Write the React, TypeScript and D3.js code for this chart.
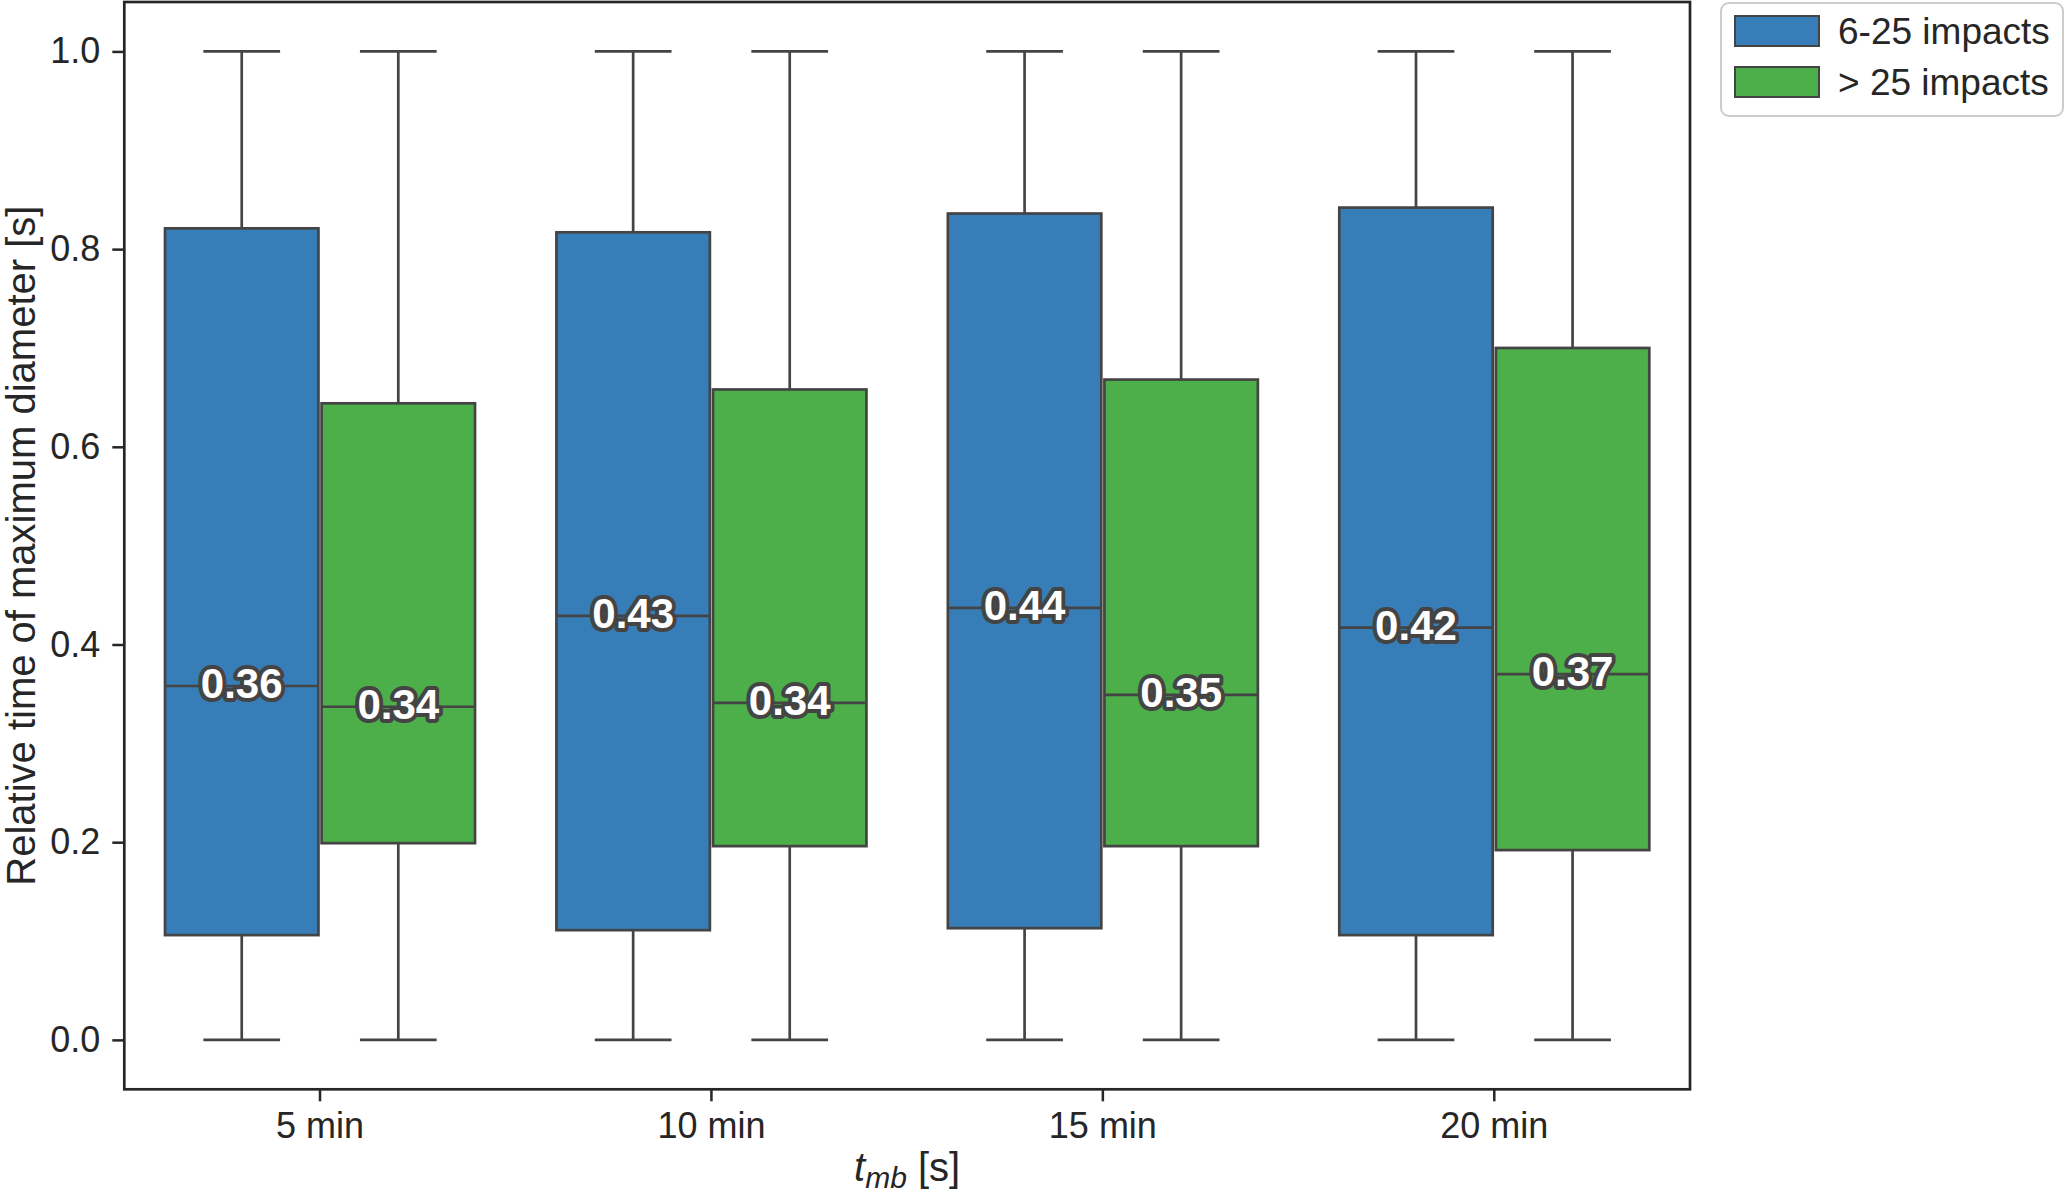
import { useEffect, useRef } from "react";
import * as d3 from "d3";

const categories = ["5 min", "10 min", "15 min", "20 min"];
const groups = ["6-25 impacts", "> 25 impacts"];
const groupColors = ["#377eb8", "#4daf4a"];

// box stats per category
const lowMin = [0, 0, 0, 0];
const lowQ1 = [0.106, 0.111, 0.113, 0.106];
const lowMedian = [0.358, 0.429, 0.437, 0.417];
const lowQ3 = [0.821, 0.817, 0.836, 0.842];
const lowMax = [1, 1, 1, 1];

const highMin = [0, 0, 0, 0];
const highQ1 = [0.199, 0.196, 0.196, 0.192];
const highMedian = [0.337, 0.341, 0.349, 0.37];
const highQ3 = [0.644, 0.658, 0.668, 0.7];
const highMax = [1, 1, 1, 1];

const yTicks = [0, 0.2, 0.4, 0.6, 0.8, 1.0];

const WIDTH = 2067;
const HEIGHT = 1196;
const FONT = "'Liberation Sans', Arial, sans-serif";
const LINE = "#444444";

type Box = {
  cat: string;
  group: string;
  gi: number;
  min: number;
  q1: number;
  med: number;
  q3: number;
  max: number;
};

export default function App() {
  const svgRef = useRef<SVGSVGElement | null>(null);

  useEffect(() => {
    if (!svgRef.current) return;
    const svg = d3.select(svgRef.current);
    svg.selectAll("*").remove();

    const margin = { left: 124.3, right: WIDTH - 1690, top: 2, bottom: HEIGHT - 1089.3 };
    const innerW = WIDTH - margin.left - margin.right;
    const innerH = HEIGHT - margin.top - margin.bottom;

    const x = d3
      .scaleBand<string>()
      .domain(categories)
      .range([0, innerW])
      .paddingInner(0.2)
      .paddingOuter(0.1);
    const xHue = d3.scaleBand<string>().domain(groups).range([0, x.bandwidth()]);
    const y = d3.scaleLinear().domain([-0.05, 1.05]).range([innerH, 0]);

    const boxes: Box[] = [];
    categories.forEach((c, i) => {
      boxes.push({ cat: c, group: groups[0], gi: 0, min: lowMin[i], q1: lowQ1[i], med: lowMedian[i], q3: lowQ3[i], max: lowMax[i] });
      boxes.push({ cat: c, group: groups[1], gi: 1, min: highMin[i], q1: highQ1[i], med: highMedian[i], q3: highQ3[i], max: highMax[i] });
    });

    const g = svg.append("g").attr("transform", `translate(${margin.left},${margin.top})`);

    const boxW = xHue.bandwidth() * 0.98;
    const centre = (d: Box) => (x(d.cat) ?? 0) + (xHue(d.group) ?? 0) + xHue.bandwidth() / 2;

    const bg = g.selectAll("g.box").data(boxes).enter().append("g").attr("class", "box");

    // whiskers
    bg.append("line")
      .attr("x1", centre)
      .attr("x2", centre)
      .attr("y1", (d) => y(d.q3))
      .attr("y2", (d) => y(d.max))
      .attr("stroke", LINE)
      .attr("stroke-width", 2.7);
    bg.append("line")
      .attr("x1", centre)
      .attr("x2", centre)
      .attr("y1", (d) => y(d.q1))
      .attr("y2", (d) => y(d.min))
      .attr("stroke", LINE)
      .attr("stroke-width", 2.7);
    // caps
    [(d: Box) => d.max, (d: Box) => d.min].forEach((acc) => {
      bg.append("line")
        .attr("x1", (d) => centre(d) - boxW / 4)
        .attr("x2", (d) => centre(d) + boxW / 4)
        .attr("y1", (d) => y(acc(d)))
        .attr("y2", (d) => y(acc(d)))
        .attr("stroke", LINE)
        .attr("stroke-width", 2.7);
    });

    bg.append("rect")
      .attr("x", (d) => centre(d) - boxW / 2)
      .attr("width", boxW)
      .attr("y", (d) => y(d.q3))
      .attr("height", (d) => y(d.q1) - y(d.q3))
      .attr("fill", (d) => groupColors[d.gi])
      .attr("stroke", LINE)
      .attr("stroke-width", 2.7);

    bg.append("line")
      .attr("x1", (d) => centre(d) - boxW / 2)
      .attr("x2", (d) => centre(d) + boxW / 2)
      .attr("y1", (d) => y(d.med))
      .attr("y2", (d) => y(d.med))
      .attr("stroke", LINE)
      .attr("stroke-width", 2.7);

    const fmt = d3.format(".2f");
    bg.append("text")
      .attr("x", centre)
      .attr("y", (d) => y(d.med) + 12)
      .attr("text-anchor", "middle")
      .attr("font-family", FONT)
      .attr("font-weight", "bold")
      .attr("font-size", 42)
      .attr("fill", "#ffffff")
      .attr("stroke", LINE)
      .attr("stroke-width", 8)
      .attr("stroke-linejoin", "round")
      .attr("paint-order", "stroke")
      .text((d) => fmt(d.med));

    // axes
    const yAxis = g
      .append("g")
      .call(d3.axisLeft(y).tickValues(yTicks).tickFormat(d3.format(".1f")).tickSize(12).tickPadding(12));
    const xAxis = g
      .append("g")
      .attr("transform", `translate(0,${innerH})`)
      .call(d3.axisBottom(x).tickSize(12).tickPadding(11));
    [yAxis, xAxis].forEach((ax) => {
      ax.select(".domain").remove();
      ax.selectAll(".tick line").attr("stroke", "#262626").attr("stroke-width", 2.5);
      ax.selectAll(".tick text").attr("font-family", FONT).attr("font-size", 36).attr("fill", "#262626");
    });

    g.append("rect")
      .attr("width", innerW)
      .attr("height", innerH)
      .attr("fill", "none")
      .attr("stroke", "#262626")
      .attr("stroke-width", 2.7);

    // axis titles
    svg.append("text")
      .attr("transform", `translate(35,${margin.top + innerH / 2}) rotate(-90)`)
      .attr("text-anchor", "middle")
      .attr("font-family", FONT)
      .attr("font-size", 40)
      .attr("fill", "#262626")
      .text("Relative time of maximum diameter [s]");

    const xl = svg.append("text")
      .attr("x", margin.left + innerW / 2)
      .attr("y", 1181)
      .attr("text-anchor", "middle")
      .attr("font-family", FONT)
      .attr("font-size", 40)
      .attr("fill", "#262626");
    xl.append("tspan").attr("font-style", "italic").text("t");
    xl.append("tspan").attr("font-style", "italic").attr("font-size", 30).attr("dy", 7).text("mb");
    xl.append("tspan").attr("dy", -7).text(" [s]");

    // legend
    const lg = svg.append("g").attr("transform", "translate(1721,3)");
    lg.append("rect")
      .attr("width", 342)
      .attr("height", 113)
      .attr("rx", 8)
      .attr("fill", "#ffffff")
      .attr("stroke", "#cccccc")
      .attr("stroke-width", 2);
    groups.forEach((name, i) => {
      const row = lg.append("g").attr("transform", `translate(0,${13 + i * 51})`);
      row.append("rect")
        .attr("x", 14)
        .attr("width", 84)
        .attr("height", 30)
        .attr("fill", groupColors[i])
        .attr("stroke", LINE)
        .attr("stroke-width", 2);
      row.append("text")
        .attr("x", 117)
        .attr("y", 28)
        .attr("font-family", FONT)
        .attr("font-size", 37)
        .attr("fill", "#262626")
        .text(name);
    });
  }, []);

  return (
    <svg
      ref={svgRef}
      width={WIDTH}
      height={HEIGHT}
      style={{ position: "absolute", left: 0, top: 0, background: "#ffffff" }}
    />
  );
}
